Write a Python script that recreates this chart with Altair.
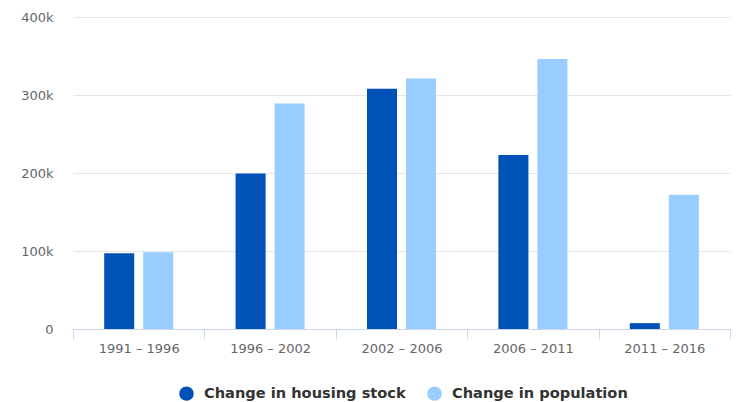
import altair as alt
import pandas as pd

periods = ["1991 – 1996", "1996 – 2002", "2002 – 2006", "2006 – 2011", "2011 – 2016"]
housing = [97000, 199500, 308000, 223000, 7500]
population = [98500, 289000, 321000, 346000, 172000]
series = ["Change in housing stock", "Change in population"]
colors = ["#0052b9", "#99ccff"]

rows = []
for p, h, pop in zip(periods, housing, population):
    rows.append({"period": p, "series": series[0], "value": h})
    rows.append({"period": p, "series": series[1], "value": pop})
df = pd.DataFrame(rows)

chart = alt.Chart(df).mark_bar().encode(
    x=alt.X("period:N", sort=periods, title=None,
            scale=alt.Scale(paddingInner=0, paddingOuter=0),
            axis=alt.Axis(labelAngle=0, labelColor="#666666", labelFontSize=13,
                          labelFont="DejaVu Sans", domainColor="#ccd6eb",
                          tickColor="#ccd6eb", tickSize=10, tickBand="extent",
                          labelPadding=3, grid=False)),
    xOffset=alt.XOffset("series:N", sort=series,
                        scale=alt.Scale(paddingInner=0.23, paddingOuter=0.8)),
    y=alt.Y("value:Q", title=None,
            scale=alt.Scale(domain=[0, 400000], nice=False),
            axis=alt.Axis(values=[0, 100000, 200000, 300000, 400000],
                          labelExpr="datum.value == 0 ? '0' : (datum.value/1000) + 'k'",
                          labelColor="#666666", labelFontSize=13, labelFont="DejaVu Sans",
                          domain=False, ticks=False, labelPadding=20,
                          gridColor="#e6e6e6")),
    color=alt.Color("series:N", sort=series,
                    scale=alt.Scale(domain=series, range=colors),
                    legend=alt.Legend(title=None, orient="none", direction="horizontal",
                                      legendX=106, legendY=369,
                                      symbolType="circle", symbolSize=210,
                                      symbolStrokeWidth=0, labelLimit=400,
                                      labelFont="DejaVu Sans", labelFontSize=14.6,
                                      labelFontWeight="bold", labelColor="#333333",
                                      columnPadding=21, labelOffset=10)),
).properties(
    width=657, height=312,
    autosize=alt.AutoSizeParams(type="none"),
    padding={"left": 65, "top": 9, "right": 2, "bottom": 76},
).configure_view(stroke=None)

chart.save("out.html", embed_options={"renderer": "svg", "actions": False})
